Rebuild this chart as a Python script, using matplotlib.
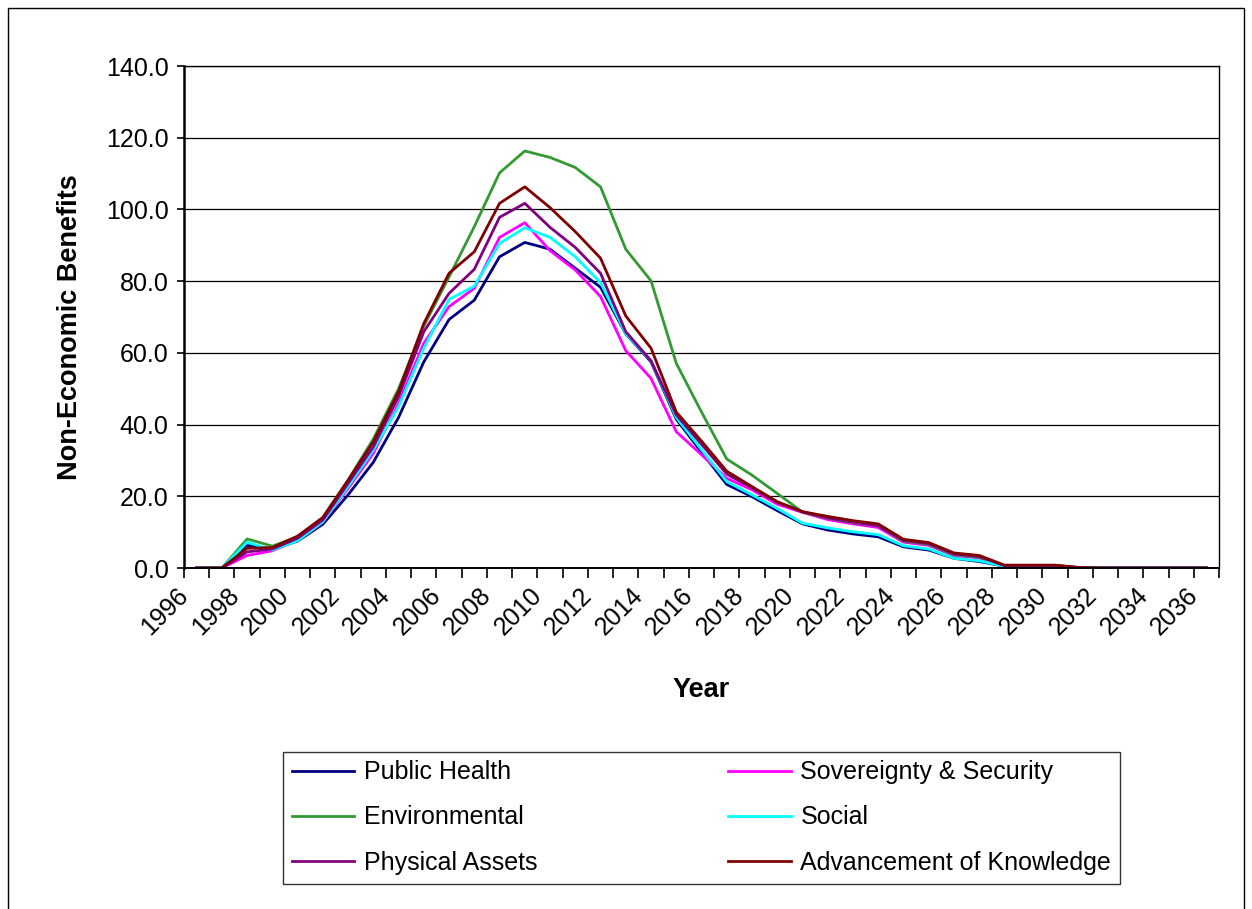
import numpy as np
import matplotlib
matplotlib.use('Agg')
import matplotlib.pyplot as plt
import matplotlib.transforms as mtransforms
from matplotlib.patches import Rectangle

plt.rcParams['font.family'] = ['Liberation Sans', 'DejaVu Sans']

# Data
years = list(range(1996, 2037))
public_health = [0, 0, 6.3, 5.3, 7.5, 12.2, 20.4, 29.5, 42.0, 57.5,
                 69.3, 74.7, 86.8, 90.8, 88.9, 83.6, 78.3, 65.3, 57.5, 41.5,
                 32.3, 23.3, 19.9, 16.0, 12.3, 10.6, 9.5, 8.7, 5.9, 5.0,
                 2.7, 1.8, 0.5, 0.5, 0.5, 0.1, 0, 0, 0, 0, 0]
sovereignty = [0, 0, 3.5, 4.8, 7.7, 12.9, 22.2, 32.0, 45.9, 62.7,
               72.9, 78.0, 92.2, 96.3, 88.5, 83.1, 75.7, 60.6, 52.9, 38.0,
               31.6, 25.0, 21.8, 17.8, 15.5, 13.5, 12.3, 11.3, 7.2, 6.3,
               3.5, 2.8, 0.6, 0.6, 0.6, 0.1, 0, 0, 0, 0, 0]
environmental = [0, 0, 8.1, 6.1, 8.7, 14.0, 24.5, 36.0, 50.0, 67.5,
                 81.2, 95.2, 110.2, 116.3, 114.5, 111.7, 106.3, 88.9, 80.1, 57.1,
                 43.5, 30.4, 25.9, 20.8, 15.6, 13.9, 12.7, 11.8, 7.5, 6.6,
                 3.7, 3.0, 0.7, 0.7, 0.7, 0.1, 0, 0, 0, 0, 0]
social = [0, 0, 7.2, 5.0, 7.6, 12.9, 22.7, 32.9, 45.0, 61.3,
          74.9, 78.6, 90.5, 94.9, 92.2, 86.8, 79.6, 65.4, 57.8, 42.0,
          33.0, 24.1, 20.4, 16.6, 12.5, 11.2, 10.1, 9.3, 6.2, 5.3,
          2.7, 2.0, 0.5, 0.5, 0.5, 0.1, 0, 0, 0, 0, 0]
physical = [0, 0, 4.5, 5.3, 8.3, 13.4, 23.6, 33.8, 47.8, 65.9,
            76.6, 83.3, 97.8, 101.7, 95.0, 89.4, 82.2, 65.9, 57.8, 42.7,
            34.5, 26.2, 22.3, 18.3, 15.7, 14.0, 12.8, 11.8, 7.7, 6.8,
            3.9, 3.2, 0.7, 0.7, 0.7, 0.1, 0, 0, 0, 0, 0]
knowledge = [0, 0, 5.5, 5.7, 8.9, 14.1, 24.5, 35.2, 49.2, 68.2,
             82.2, 88.2, 101.7, 106.3, 100.5, 93.8, 86.4, 70.3, 61.3, 43.5,
             35.4, 27.0, 22.7, 18.5, 15.7, 14.4, 13.2, 12.3, 8.0, 7.1,
             4.2, 3.5, 0.8, 0.8, 0.8, 0.1, 0, 0, 0, 0, 0]

series = [('Public Health', public_health, '#000080'),
          ('Sovereignty & Security', sovereignty, '#FF00FF'),
          ('Environmental', environmental, '#339933'),
          ('Social', social, '#00FFFF'),
          ('Physical Assets', physical, '#800080'),
          ('Advancement of Knowledge', knowledge, '#800000')]

W, H = 1252, 909
fig = plt.figure(figsize=(W/100, H/100), dpi=100)
# outer chart border
fig.patches.append(Rectangle((8/W, -0.01), (1244-8)/W, 1.01 - 8/H,
                             transform=fig.transFigure, fill=False,
                             edgecolor='black', lw=1))

ax = fig.add_axes([184/W, 1-568/H, (1219-184)/W, (568-66)/H])
x = np.arange(len(years))
lines = {}
for name, vals, col in series:
    ln, = ax.plot(x, vals, color=col, lw=2, label=name)
    lines[name] = ln

ax.set_xlim(-0.5, len(years) - 0.5)
ax.set_ylim(0, 140)
ax.set_yticks(np.arange(0, 141, 20))
ax.set_yticklabels(['%.1f' % v for v in np.arange(0, 141, 20)], fontsize=18)
ax.yaxis.grid(True, color='black', lw=0.9)
ax.set_axisbelow(True)
ax.tick_params(axis='y', length=5, width=1.2, direction='out', pad=6)

ax.set_xticks(x[::2])
ax.set_xticklabels([str(y) for y in years[::2]], fontsize=18,
                   rotation=45, ha='right', va='center', rotation_mode='anchor')
ax.set_xticks(np.arange(-0.5, len(years)), minor=True)
ax.tick_params(axis='x', which='major', length=0, pad=17)
ax.tick_params(axis='x', which='minor', length=7, width=1.2, direction='out')
shift = mtransforms.ScaledTranslation(-12/100, 0, fig.dpi_scale_trans)
for lab in ax.get_xticklabels():
    lab.set_transform(lab.get_transform() + shift)

for s in ax.spines.values():
    s.set_color('black')
    s.set_linewidth(1)
ax.spines['left'].set_linewidth(1.8)
ax.spines['bottom'].set_linewidth(1.4)

ax.set_ylabel('Non-Economic Benefits', fontsize=19.5, fontweight='bold')
ax.yaxis.set_label_coords(-0.110, 0.48)
ax.yaxis.label.set_va('center')
ax.set_xlabel('Year', fontsize=19.5, fontweight='bold')
ax.xaxis.set_label_coords(0.5, -0.243)
ax.xaxis.label.set_va('center')

order = ['Public Health', 'Environmental', 'Physical Assets',
         'Sovereignty & Security', 'Social', 'Advancement of Knowledge']
leg = fig.legend([lines[n] for n in order], order, loc='center',
                 bbox_to_anchor=(283/W, 1-888/H, (1120-283)/W, (888-747)/H),
                 ncol=2, mode='expand', fontsize=18, frameon=True,
                 fancybox=False, edgecolor='black', handlelength=2.5,
                 handletextpad=0.4, labelspacing=0.85, borderaxespad=0,
                 borderpad=0.35)
leg.get_frame().set_linewidth(1)

fig.savefig('out.png', dpi=100)
